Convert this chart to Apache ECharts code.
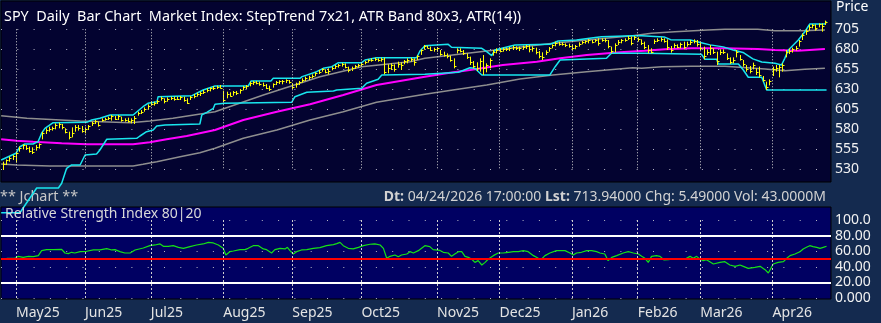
<!DOCTYPE html>
<html><head><meta charset="utf-8">
<script src="https://cdn.jsdelivr.net/npm/echarts@6/dist/echarts.min.js"></script>
<style>html,body{margin:0;padding:0;background:#142a4f;overflow:hidden}#c{width:881px;height:323px}</style>
</head><body><div id="c"></div>
<script>
// ---- bar data (per trading day, index 0 = first bar) ----
const highs = [539.5,542.4,545.8,547.8,552,558.3,561.2,560.3,558.3,557.4,560.3,562.4,577,581.2,583.3,583.3,587.4,588.3,586.6,581.2,
577,582.4,585.3,585.3,584.1,582.4,585.3,589.5,591.6,589.5,593.7,594.5,595.8,597.9,596.6,597.9,595.8,593.7,594.5,593.7,
596.6,602,604.1,607.4,611.2,614.5,614.5,616.6,620.8,618.7,619.9,620.8,620.8,620.8,621.6,620.8,618.7,621.6,624.1,625.8,
627,629.1,631.2,632.4,634.1,634.5,635.3,628,627,626.2,627.8,627.8,630.3,634.1,635.3,639.5,640.4,640.4,639.5,638.3,
636.6,634.5,637.4,640.4,641.2,641.6,642.4,641.6,637.4,638.3,640.4,643.7,645.8,647,648.7,651.2,654.1,656.2,654.9,656.2,
658.3,660.4,661.6,662.9,662.4,658.3,658.3,660.4,661.6,662.9,665.3,667.4,668.7,669.5,668.7,669.5,669.5,661.2,662.4,661.2,
664.5,663.7,666.6,668.7,669.5,668.7,672.8,680,685.4,684.5,683.3,682,682.8,679.1,677,674.9,672,668.7,681.2,681.2,
679.1,674.9,670.8,665.3,663.7,668.7,672.8,662.4,668.7,679.1,681.2,681.2,682,682,682.8,684.5,683.7,683.3,684.5,685.4,
685.4,683.7,682,677.8,676.2,678.7,682.8,686.2,689.5,689.5,688.7,687.4,687,685.4,685.4,688.7,690.3,691.2,692.8,691.6,
692.8,693.7,693.7,693.7,691.6,683.3,687.4,691.6,692.8,693.7,696.6,695.8,696.6,694.9,692.4,689.5,685.3,681.2,692.4,693.7,
694.9,693.7,692.4,684.1,687.4,686.2,688.3,689.5,689.5,691.6,692.4,691.6,688.3,683.3,679.9,685.3,681.2,677,679.9,679.9,
674.9,669.9,669.9,679.1,672.8,666.6,660.3,659.1,663.3,656.2,658.3,646.6,639.5,642.4,658.3,660.3,660.3,662.4,679.1,680.8,
682,684.1,691.6,699.9,704.9,710.4,711.6,711.2,712.4,712.4,715.8];
const lows = [529.1,535.3,539.5,541.6,538.3,552,554.9,554.1,550.8,549.1,553.3,555.8,567.4,574.1,577,578.3,579.9,581.2,579.9,574.9,
567.4,569.9,577,578.3,575.8,574.9,579.1,584.1,586.6,583.3,589.5,590.8,591.6,590.8,591.6,591.6,589.5,589.5,588.3,587.4,
586.6,597,599.1,602,604.9,609.5,609.5,611.6,615.8,612.4,614.5,616.6,615.8,616.6,616.6,614.5,611.6,616.6,618.7,620.8,
621.6,624.1,626.2,627.4,629.1,630.3,631.2,613.7,618.7,620.8,622,622.9,624.5,628.7,630.3,633.7,635.3,636.2,634.5,633.3,
630.3,627.8,632,635.3,636.6,636.2,637.9,637,630.3,632,635.3,638.3,640.4,641.6,643.7,646.2,649.1,652,650,648.7,
653.7,655.4,657,658.3,656.2,651.2,652.8,655.4,657,658.3,661.2,663.3,664.5,665.3,664.5,664.5,648.7,650,654.1,652,
657,654.1,661.2,662.4,664.5,659.5,666.6,673,679.5,681.2,677.8,677,677,672,670.8,668.7,664.5,656.2,674.9,676.2,
672.8,667.9,660.4,656.2,652.8,652,647.8,651.2,656.2,672,674.9,676.2,677,677.8,677.8,679.1,679.1,677.8,679.5,680.3,
676.2,677,673.7,668.7,666.6,672.8,677,681.2,683.7,684.5,684.5,682.8,682,679.1,680,683.3,686.2,687,687.4,687.4,
688.7,684.5,689.5,688.7,681.2,674.9,676.2,685.4,687.4,689.5,691.6,685,691.6,689.5,685.3,680,674.9,674.9,686.6,689.1,
689.5,688.3,679.1,675.8,681.2,681.2,681.2,680,683.3,685.3,687.4,683.3,679.1,667.4,672.8,672.8,674.1,660.3,672.8,674.1,
666.6,661.6,662.4,669.9,665.8,658.3,652,649.9,654.9,647.9,644.9,639.5,629.1,634.9,646.6,652,644.9,652,669.9,674.1,
675.8,678.3,683.3,691.6,697.9,703.3,706.2,703.3,707.4,702,710.4];
const closes = [537,541,544,546,550,557,560,557,553,551,558,561,575,579,580,581,585,587,583,576,
570,575,583,582,578,580,584,588,590,585,592,593,594,596,593,596,592,591,590,591,
594,600,602,605,609,612,613,615,619,615,618,619,618,618,620,617,613,620,622,624,
625,627,629,631,632,633,632,617,624,622,626,625,629,633,634,638,639,638,636,635,
632,630,636,639,640,640,641,639,633,636,639,642,644,645,647,650,652,655,652,653,
657,659,660,661,658,654,656,659,660,662,664,666,667,668,666,668,651,657,660,655,
662,660,665,667,668,664,671,679,684,682,679,680,681,674,673,671,667,659,679,678,
675,670,664,659,656,665,657,660,666,677,679,678,680,680,681,683,681,682,683,684,
680,681,676,672,670,676,681,685,688,687,686,685,684,681,684,687,689,690,691,689,
691,688,692,691,684,678,685,689,691,692,694,688,695,693,688,683,679,677,690,691,
693,690,683,679,685,683,686,683,687,689,690,686,682,672,677,681,677,665,676,677,
669,664,666,676,668,661,655,653,660,651,648,642,633,640,655,657,658,660,676,678,
680,682,690,698,703,708,710,706,711,709,713.94];

// ---- indicator lines: [bar index, value] read at vertices ----
const stepUpper = [[-0.5,541.6],[4,550],[5.2,558.2],[6.7,561.6],[9.2,561.6],[10.7,564.5],[11.8,575],[12.8,581.2],[15.3,588.2],[25.5,588.7],[27,591.6],[29.5,593.7],[32.6,597.9],[39.6,597.9],[42.6,608.2],[44.1,612.5],[46.9,614.5],[47.2,620.7],[57.5,622],[60.9,629.1],[64.5,634.1],[74.6,634.1],[75.5,640.4],[81.5,640.4],[82.2,643.7],[90.3,643.7],[91,645.8],[95.4,652],[97.4,656.2],[100,658.3],[102,663.3],[109.1,663.3],[110.1,666.6],[113.6,669.5],[125.8,669.5],[126.8,677.9],[128.3,684.5],[128.8,686.2],[135.4,686.2],[136.4,682.5],[145.6,681.2],[147.1,677],[148.6,672],[149.6,679.1],[155.7,685.4],[166.3,686.2],[168.8,690.4],[174.4,691.6],[179.5,694.5],[182,695.7],[191.6,697],[194.2,697],[201,695.5],[203,692],[209,691.6],[212,688.5],[215,685.5],[219,683],[222,679],[225,676],[228,668],[230.7,664],[234.7,662.5],[236.7,660.4],[237.7,668.7],[238.8,679.1],[241.8,691.6],[243.8,702],[245.3,711.6],[249.9,711.6],[250.4,714.5]];
const stepLower = [[-0.5,475.7],[5.2,475.7],[10.3,506.6],[16.9,506.6],[17.9,512.5],[19.4,531.2],[20.9,535.4],[23.5,535.4],[25,547.9],[28.5,549.1],[29.5,554.1],[31.6,567.5],[40.7,568.7],[41.7,571.6],[43.7,577],[45.7,579.1],[46.8,584.1],[49.3,585.4],[59.9,586.6],[60.5,597.9],[62,601.2],[64,606.2],[64.5,611.2],[67.5,612.5],[87.8,613.7],[88.8,620.7],[92.4,626.2],[100.5,627.9],[101.5,629.1],[109.1,631.2],[110.6,637.5],[114.1,642.5],[115.2,647.9],[128.3,648.7],[138.5,651.2],[142,657],[143.5,656.2],[145.6,647.9],[166.3,647.9],[167.9,658.2],[169.4,666.6],[183.5,668.7],[185,675],[195.2,675],[195.7,673.7],[212.4,673.7],[213.4,667.5],[217,667.5],[217.5,661.6],[223.6,661.6],[225.1,654.1],[226.6,645],[230.7,645],[232.2,629.1],[250.4,629.1]];
const maLine = [[-0.5,567.5],[4.2,565.7],[9.2,564.5],[17.9,562.5],[25.5,561.2],[39.6,561.2],[44.7,563.7],[49.8,567.5],[55.9,571.6],[64.5,579.1],[73.1,591.6],[83.3,602],[93.4,611.2],[103.5,622.9],[113.6,635.4],[128.3,645.7],[134.9,650],[142,654.1],[152,660.4],[162.3,664.5],[169.4,668.7],[177.5,672.9],[187.6,676.2],[195.2,678.2],[201.3,680],[209.4,681.2],[219.5,681.2],[229.5,680.4],[234.7,679.1],[241.7,678.2],[249.9,680.4]];
const bandUpper = [[-0.5,597],[7.3,593.7],[23.5,590.4],[38.7,588.2],[44.7,590.4],[51.7,593.7],[64.5,602],[79.2,622.9],[96.4,645.7],[109.1,658.2],[123.8,664.5],[128.3,668.7],[147.1,677.9],[167.3,687.5],[177.5,691.6],[191.5,697],[197.2,700],[204.3,702],[214.3,704.1],[219.5,705],[229.5,705],[234.7,703.2],[242.8,703.2],[249.9,704.1]];
const bandLower = [[-0.5,536.6],[4.2,535.4],[14.3,534.1],[39.6,534.1],[42.6,536.2],[46.8,539.5],[53.9,545.7],[59.9,550.7],[64.5,556.2],[73.1,568.7],[83.3,579.1],[93.4,591.6],[103.5,602],[113.6,613.7],[128.3,623.7],[136.8,629.1],[147.1,635.4],[157.2,642.9],[167.2,647.9],[177.5,652],[191.5,657],[194.2,656.2],[200.3,658.2],[209.4,658.7],[219.5,658.7],[231.7,655.4],[237.7,653.2],[243.8,655],[249.9,656.2]];
const rsi = [[1.2,50.9],[3.7,50.9],[4.7,53.4],[6.2,52.1],[7.8,53.4],[9.3,53],[10.8,54.3],[11.8,60.7],[13.3,62],[15.4,62],[17.9,62.4],[18.9,57.7],[19.9,56.9],[20.9,58.6],[21.9,57.7],[23.5,59.4],[25.5,59.9],[27.5,61.6],[29.5,61.6],[31.6,63.3],[33.1,61.6],[34.1,62],[35.6,59.4],[37.1,57.7],[38.7,57.7],[40.2,61.6],[42.7,64.1],[44.7,67.1],[46.3,68],[47.8,69.3],[48.8,66.3],[50.3,66.3],[51.8,67.1],[53.4,65],[54.9,63.7],[56.9,65.9],[58.9,68],[60.9,69.3],[62.5,71.4],[64,70.6],[65.5,68],[67,63.7],[67.8,55.1],[69,59.4],[70.1,60.3],[72.1,62],[73.6,62],[74.6,63.7],[76.1,67.1],[77.7,67.1],[79.2,62.9],[80.2,62],[81.7,57.7],[82.7,62],[84.3,63.7],[85.8,62.9],[86.5,65],[87.3,60.7],[88.3,56.4],[89.3,59.4],[90.8,61.6],[92.4,62],[94.4,63.7],[96.4,64.6],[98.4,67.1],[100.5,68.4],[101.5,69.7],[102.5,71.4],[103.5,67.1],[105,63.7],[106.5,62.9],[108.1,65],[109.6,67.1],[111.6,68.9],[113.1,69.3],[114.7,68],[115.7,63.7],[116.7,50.9],[117.7,53.4],[119.2,55.1],[120.2,53],[121.2,55.1],[122.8,56.4],[123.8,59.4],[124.8,57.7],[126.3,60.7],[128.3,67.1],[129.8,65.9],[130.8,62],[132.9,61],[133.9,58.6],[135.4,57.7],[136.4,53.4],[137.4,56.4],[138.5,59.4],[139.5,59.4],[140.5,53.4],[141.5,52.1],[142.5,50],[143.5,45.7],[144.5,47.9],[145.6,42.3],[146.6,45.7],[147.6,50],[149.1,54.3],[150.6,57.7],[152.1,57.7],[153.7,58.6],[155.2,59.4],[156.7,59.4],[158.2,60.7],[159.7,59.4],[161.3,54.3],[162.8,50.9],[163.8,50],[164.8,54.3],[166.3,57.7],[168.3,60.7],[170.9,60.7],[172.4,57.7],[173.4,55.1],[174.4,57.7],[175.9,58.6],[177.5,60.7],[179,60.7],[180.5,59.4],[181.5,57.7],[183,56.4],[184,47.9],[185.1,52.1],[186.6,54.3],[188.6,57.7],[190.1,59.4],[191.7,57.7],[193.2,56.4],[194.2,53.4],[195.2,50.9],[196.2,45.7],[197.2,53.4],[198.7,54.3],[199.8,53.4],[201,48.7],[202.3,49.1],[203.8,50],[205.9,50],[206.4,52.1],[207.4,50],[207.9,52.1],[208.9,53.4],[209.9,50.9],[210.9,53.4],[211.9,50],[212.9,47.9],[213.9,49.1],[214.9,46.6],[216,43.6],[218,45.7],[219.5,46.6],[221,42.3],[222.6,40.6],[224.1,42.3],[225.1,40.6],[226.6,38],[228.6,39.3],[230.2,40.6],[231.7,36.3],[232.7,32],[234.2,43.6],[235.7,45.7],[237.3,46.6],[238.3,50.9],[239.3,54.3],[240.8,56.4],[242.3,59.4],[243.3,62.9],[244.3,65],[245.3,67.1],[246.3,65.9],[247.4,65],[248.4,63.7],[249.4,65],[250.4,66.3]];

// ---- axis labels ----
const monthStartIdx = [4,25,45,67,88,109,132,151,173,193,212,234];
const monthLabels = ['May25','Jun25','Jul25','Aug25','Sep25','Oct25','Nov25','Dec25','Jan26','Feb26','Mar26','Apr26'];
const priceTicks = [530,555,580,605,630,655,680,705];
const rsiTicks = [0,20,40,60,80,100];
const rsiTickLabels = ['0.000','20.00','40.00','60.00','80.00','100.0'];
const rsiLevels = {upper:80, mid:50, lower:20};

const FONT = 'Noto Sans';
const chart = echarts.init(document.getElementById('c'), null, {renderer:'canvas'});

const vGridPrice = monthStartIdx.map(m => [{coord:[m, priceTicks[priceTicks.length-1]]},{coord:[m, priceTicks[0]]}]);
const vGridRsi = monthStartIdx.map(m => [{coord:[m, rsiTicks[rsiTicks.length-1]]},{coord:[m, rsiTicks[0]]}]);

const xRange = {min:-0.55, max:251.75};
function lineSeries(data, color, width, extra){
  return Object.assign({type:'line', xAxisIndex:0, yAxisIndex:0, data:data, symbol:'none', silent:true,
    lineStyle:{color:color, width:width}, z:3, animation:false}, extra||{});
}

chart.setOption({
  animation:false,
  backgroundColor:'#142a4f',
  grid:[
    {left:1, top:1, width:830, height:181, show:true, backgroundColor:'#030330', borderColor:'#000000', borderWidth:1},
    {left:1, top:207, width:830, height:92, show:true, backgroundColor:'#000062', borderColor:'#000000', borderWidth:1}
  ],
  xAxis:[
    {gridIndex:0, type:'value', min:xRange.min, max:xRange.max, axisLine:{show:false}, axisTick:{show:false}, axisLabel:{show:false}, splitLine:{show:false}},
    {gridIndex:1, type:'value', min:xRange.min, max:xRange.max, axisLine:{show:false},
     axisTick:{show:false, customValues:monthStartIdx},
     axisLabel:{show:true, customValues:monthStartIdx, formatter:(v)=>monthLabels[monthStartIdx.indexOf(Math.round(v))]||'',
       align:'left', color:'#e4e4e4', fontSize:14, fontFamily:FONT, margin:7, hideOverlap:false},
     splitLine:{show:false}}
  ],
  yAxis:[
    {gridIndex:0, type:'value', position:'right', min:514.1, max:740.35, axisLine:{show:false},
     axisTick:{show:false, customValues:priceTicks},
     axisLabel:{customValues:priceTicks, color:'#f2f2f2', fontSize:14, fontFamily:FONT, align:'left', margin:4, padding:[0,0,4,0]},
     splitLine:{show:true, lineStyle:{color:'#b4b4c4', width:1, type:[1,15.3]}}},
    {gridIndex:1, type:'value', position:'right', min:-1.3, max:116.7, axisLine:{show:false},
     axisTick:{show:false, customValues:rsiTicks},
     axisLabel:{customValues:rsiTicks, formatter:(v)=>rsiTickLabels[rsiTicks.indexOf(Math.round(v))]||'',
       color:'#f2f2f2', fontSize:14, fontFamily:FONT, align:'left', margin:4, padding:[0,0,5,0]},
     splitLine:{show:true, lineStyle:{color:'#b4b4c4', width:1, type:[1,15.3]}}}
  ],
  series:[
    lineSeries(bandUpper, '#8e8e8e', 1.5, {markLine:{silent:true, symbol:'none', animation:false, label:{show:false},
      lineStyle:{color:'#d0d0d0', width:1, type:[1,2]}, data:vGridPrice}}),
    lineSeries(bandLower, '#8e8e8e', 1.5),
    lineSeries(maLine, '#ff00ff', 2),
    lineSeries(stepUpper, '#19e6ee', 1.5),
    lineSeries(stepLower, '#19e6ee', 1.5, {clip:false}),
    {
      type:'custom', xAxisIndex:0, yAxisIndex:0, silent:true, z:4, animation:false,
      data: highs.map((h,i)=>[i, h, lows[i], closes[i]]),
      encode:{x:0, y:[1,2,3]},
      renderItem:function(params, api){
        const i = api.value(0);
        const top = api.coord([i, api.value(1)]);
        const bot = api.coord([i, api.value(2)]);
        const cl = api.coord([i, api.value(3)]);
        const x = Math.round(top[0]) + 0.5;
        const cy = Math.round(cl[1]) + 0.5;
        return {type:'group', children:[
          {type:'line', shape:{x1:x, y1:top[1], x2:x, y2:bot[1]}, style:{stroke:'#ffff00', lineWidth:1}},
          {type:'line', shape:{x1:x, y1:cy, x2:x+2, y2:cy}, style:{stroke:'#ffff00', lineWidth:1}}
        ]};
      }
    },
    {
      type:'line', xAxisIndex:1, yAxisIndex:1, data:rsi, symbol:'none', silent:true, z:3, animation:false,
      lineStyle:{color:'#16e016', width:1.2},
      markLine:{silent:true, symbol:'none', animation:false, label:{show:false},
        data:[
          ...vGridRsi.map(d=>[Object.assign({lineStyle:{color:'#d0d0d0', width:1, type:[2,2]}}, d[0]), d[1]]),
          {yAxis:rsiLevels.upper, lineStyle:{color:'#ffffff', width:2, type:'solid'}},
          {yAxis:rsiLevels.lower, lineStyle:{color:'#ffffff', width:2, type:'solid'}},
          {yAxis:rsiLevels.mid, lineStyle:{color:'#ff0000', width:2, type:'solid'}}
        ]}
    }
  ],
  graphic:[
    {type:'text', x:4, y:16.5, silent:true, z:10, style:{text:'SPY  Daily  Bar Chart  Market Index: StepTrend 7x21, ATR Band 80x3, ATR(14))',
      fill:'#ffffff', fontSize:14.4, fontFamily:FONT, align:'left', verticalAlign:'middle'}},
    {type:'text', x:836, y:7.5, silent:true, z:10, style:{text:'Price', fill:'#ffffff', fontSize:14, fontFamily:FONT, align:'left', verticalAlign:'middle'}},
    {type:'text', x:0, y:197, silent:true, z:1, style:{text:'** Jchart **', fill:'#c8c8c8', fontSize:14.4, fontFamily:FONT, align:'left', verticalAlign:'middle'}},
    {type:'text', x:826, y:197, silent:true, z:1, style:{text:'{b|Dt:} 04/24/2026 17:00:00 {b|Lst:} 713.94000 Chg: 5.49000 Vol: 43.0000M',
      fill:'#d2d2d2', fontSize:14, fontFamily:FONT, align:'right', verticalAlign:'middle',
      rich:{b:{fontWeight:'bold', fontSize:14, fontFamily:FONT, fill:'#d2d2d2'}}}},
    {type:'text', x:5, y:214.5, silent:true, z:10, style:{text:'Relative Strength Index 80|20', fill:'#d8d8d8', fontSize:14, fontFamily:FONT, align:'left', verticalAlign:'middle'}}
  ]
});
</script></body></html>
